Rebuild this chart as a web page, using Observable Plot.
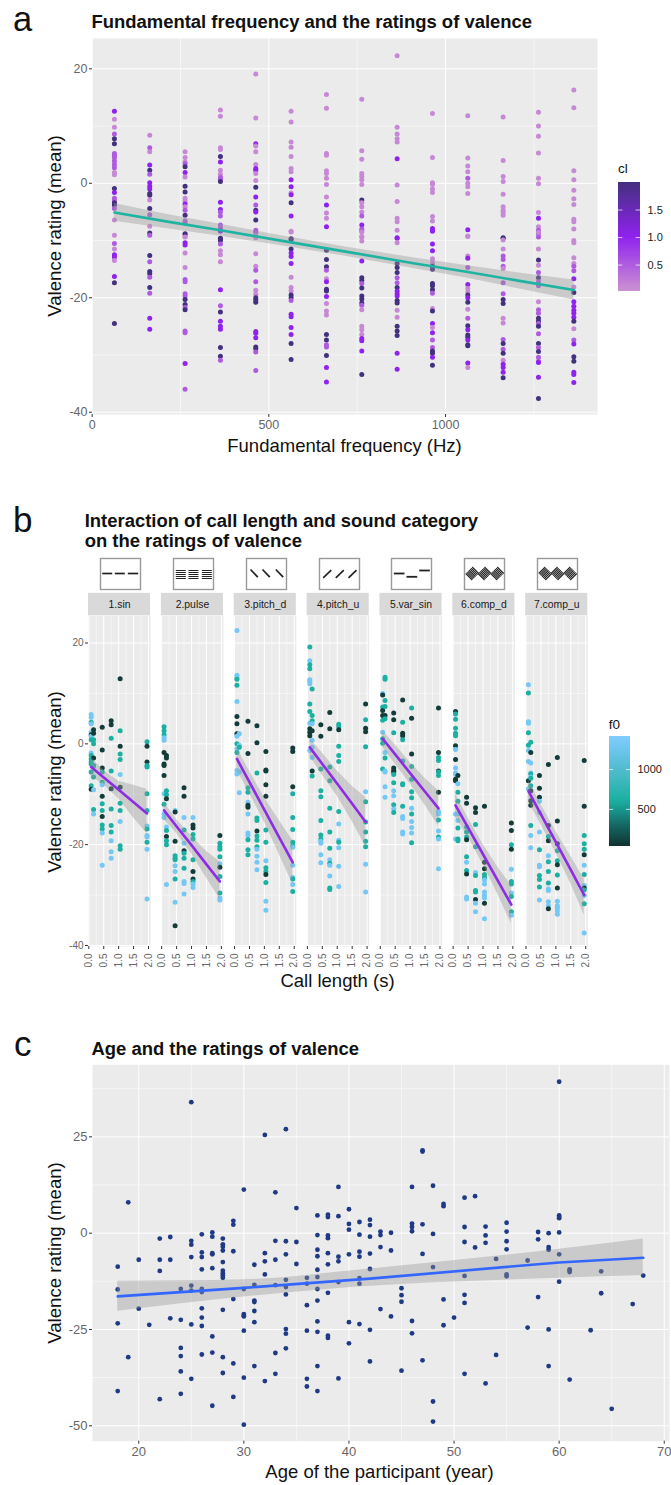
<!DOCTYPE html>
<html><head><meta charset="utf-8">
<script src="https://cdn.jsdelivr.net/npm/d3@7"></script>
<script src="https://cdn.jsdelivr.net/npm/@observablehq/plot@0.6"></script>
<style>
html,body{margin:0;padding:0;background:#fff}
#page{position:relative;width:671px;height:1485px;overflow:hidden;font-family:"Liberation Sans",Arial,sans-serif;color:#111}
#page>div{position:absolute;white-space:nowrap}
#page>svg,#page>figure{position:absolute;margin:0}
</style></head><body><div id="page"></div>
<script>
// ---------- Panel a: cl levels
const L=0.1,M=0.5,P=1,D=2;
const f0Levels=[63,163,263,363,463,563,663,763,863,963,1063,1163,1263,1363];
const a063=[12.6,P,11.2,L,9.8,L,8.6,M,7.8,D,6.9,D,5.2,M,4.9,M,4.5,M,3.9,M,3.3,M,2.7,M,1.9,L,1.5,L,-0.9,D,-1.6,P,-2.6,M,-3.1,M,-3.4,D,-3.8,D,-4.4,M,-6.4,L,-9.1,L,-10.5,M,-11.5,L,-12.5,P,-12.9,P,-13.5,L,-16.3,P,-17.4,D,-24.5,D];
const a163=[8.4,L,6.2,M,5.5,L,3.2,P,2.3,D,1.6,M,0.1,P,-0.5,P,-1,P,-1.8,D,-2.1,D,-2.9,L,-4.4,D,-5.5,M,-7.5,L,-8.7,D,-9.1,M,-12.6,D,-13.7,M,-15.4,D,-15.8,D,-16.4,M,-18.2,D,-19.2,M,-23.6,P,-25.5,P];
const a263=[5.5,L,4.5,L,3.7,L,3.4,M,2.9,D,1.9,P,1.1,L,-0.5,D,-1.5,D,-2.6,L,-3.1,L,-3.6,P,-4.1,L,-4.7,M,-5.6,D,-6.6,M,-6.9,M,-8.9,M,-9.3,L,-8.8,D,-9.4,L,-10.4,P,-10.8,P,-12.2,L,-14.7,L,-16.8,M,-17.2,M,-19.3,M,-19.7,M,-20.3,D,-21.2,D,-21.7,M,-22.1,D,-25.8,M,-26.1,M,-31.5,P,-36,M];
const a363=[12.8,L,11.7,L,6.2,L,5.9,L,4.7,D,3.7,P,2.3,L,1.6,L,1,M,0.7,M,0.3,D,-3.3,P,-4.6,P,-5,M,-5.7,M,-7.3,M,-7.8,M,-8.4,M,-9.7,D,-8.3,P,-9.6,D,-10,D,-10.6,M,-11.8,L,-12.5,L,-13.7,L,-18.6,P,-21.4,M,-22.5,D,-24.1,P,-25,P,-25.5,P,-28.7,D,-30.2,D,-30.9,M];
const a463=[19.1,L,11.4,L,6.9,P,6.5,L,5.5,L,3.3,L,2.6,P,2.3,P,1.7,L,0.5,L,-0.7,D,-2.4,P,-3.8,M,-4.7,D,-5,P,-6.4,D,-8.2,M,-8.6,M,-9.2,L,-9.5,L,-12.3,L,-14.5,L,-15.2,M,-17.2,M,-18.7,L,-19.4,L,-20,D,-20.4,D,-20.8,D,-25.9,P,-26.2,P,-27,P,-28.6,D,-28.9,D,-29.5,M,-32.7,M];
const a563=[12.6,L,10.7,L,7.2,L,6.3,L,4.7,L,2.6,L,2,L,0.6,P,-0.6,P,-1.7,L,-2,P,-3.4,D,-5.7,P,-8.4,L,-9.7,D,-8.5,L,-9.8,D,-11.5,D,-12.2,P,-12.8,P,-14,P,-16.4,L,-18.2,L,-18.8,L,-19.5,D,-20,D,-20.5,M,-22.9,P,-23.3,P,-25.2,P,-26.4,P,-28,D,-30.8,D];
const a663=[15.5,L,13.1,L,5.2,L,4.9,L,2.2,L,1.7,L,0.9,L,-0.2,L,-2.4,L,-3.8,P,-5.2,L,-6.1,L,-7.6,P,-11.7,D,-13.3,D,-14.6,D,-15.2,M,-16.7,L,-17.2,P,-18.5,D,-18.8,D,-19.8,P,-21,L,-22.3,L,-23,L,-26.4,D,-27.4,D,-28.2,M,-28.6,M,-30.1,D,-32.2,P,-34.7,P];
const a763=[14.7,L,5.7,L,4.2,L,1.7,L,1.2,L,0.6,L,-0.2,L,-2.9,D,-3.4,L,-4.1,L,-5,L,-5.7,M,-7.3,P,-8,M,-8.3,M,-9.4,L,-8.5,L,-9.3,L,-10.1,L,-13.6,P,-16.5,D,-17,D,-17.5,M,-18.3,D,-19.7,D,-20.2,D,-20.9,D,-21.3,M,-22.1,L,-25,L,-25.6,L,-26.4,L,-27.1,P,-27.5,P,-29.3,P,-33.4,D];
const a863=[22.3,L,9.8,L,8.6,L,7.8,L,7.2,L,4.3,P,-0.3,L,-3.2,L,-6.1,L,-6.7,L,-8.2,L,-9.6,P,-9.5,P,-10.4,L,-14,D,-14.7,D,-15.6,D,-16.5,M,-17.4,M,-18.2,D,-18.8,P,-19.3,P,-19.7,P,-20.5,D,-20.9,D,-22.2,L,-23.4,L,-25,D,-25.8,D,-26.6,D,-29.7,P,-32.5,P];
const a963=[12.2,L,4.5,L,0.1,L,-0.2,L,-1,L,-1.6,L,-5.8,L,-6.6,L,-7.9,P,-8.2,P,-8.4,P,-10.6,P,-11.8,P,-13.2,L,-13.9,L,-14.5,D,-15,D,-17.5,D,-17.9,D,-18.6,D,-19.2,M,-21.9,L,-22.3,D,-24.5,P,-25.2,L,-26.1,P,-27.4,M,-28.7,M,-29.3,D,-29.7,D,-30.4,P,-31.8,D];
const a1063=[11.8,L,4.4,L,3,L,2,L,0.9,M,0,L,-0.6,L,-1.8,L,-8.1,P,-9.3,L,-9.2,L,-12.7,L,-13.1,P,-14.7,M,-17.7,P,-18.4,L,-19,L,-19.5,D,-20,P,-20.8,D,-22,L,-23.6,M,-24.9,D,-25.6,P,-26.5,D,-26.9,D,-27.4,P,-28.2,D,-28.4,D,-31.4,P,-32.2,L];
const a1163=[11.6,L,4,L,1.2,L,0.3,L,-1.9,L,-4.1,L,-4.7,L,-5.1,L,-5.6,L,-9.5,D,-9.6,D,-9.9,L,-11.5,L,-12.7,M,-13.3,M,-14.5,M,-14.9,L,-17.4,M,-19.3,M,-20.3,D,-21,D,-23.6,L,-24.4,L,-27.3,M,-28,D,-29,M,-29.7,D,-30.9,L,-31.6,P,-32.2,P,-33,P,-34,D];
const a1263=[12.4,L,10,L,8.2,L,5.3,L,0.9,L,-0.1,L,-5.1,L,-6.1,P,-7.6,L,-8.2,M,-8.8,M,-9.4,M,-8.6,L,-11.5,L,-13.4,D,-14.3,L,-15.6,M,-16.5,D,-17.2,M,-17.9,M,-20.7,L,-22.1,M,-22.7,M,-23.6,D,-24.1,D,-24.5,M,-25,D,-26.3,M,-28,D,-28.7,M,-29.4,D,-30.4,M,-31.1,M,-31.3,P,-33.9,P,-37.6,D];
const a1363=[16.3,L,13.2,L,2.2,L,0.6,L,-1.2,L,-2.7,L,-3.7,L,-6.3,L,-6.7,L,-8,L,-10,L,-10.4,L,-13,L,-14,L,-14.5,M,-15.3,M,-16.7,P,-18.1,L,-19.1,D,-20.7,P,-21.5,P,-22.2,P,-22.7,P,-23.4,P,-24.1,D,-25.4,L,-27.4,M,-28.1,P,-30.3,D,-31.1,D,-33,P,-33.4,P,-34.8,P];
const aCols=[a063,a163,a263,a363,a463,a563,a663,a763,a863,a963,a1063,a1163,a1263,a1363];
const aFitX=[63,213,363,513,713,913,1063,1213,1363];
const aFitLine=[-5.1,-6.7,-8.2,-9.8,-11.9,-14,-15.5,-17.1,-18.65];
const aFitHi=[-3.55,-5.45,-7.15,-8.9,-11.1,-13.05,-14.4,-15.7,-16.9];
const aFitLo=[-6.65,-7.95,-9.25,-10.7,-12.7,-14.95,-16.6,-18.5,-20.4];
// ---------- Panel b
const H=1300,T=600,K=80;
const categories=["1.sin","2.pulse","3.pitch_d","4.pitch_u","5.var_sin","6.comp_d","7.comp_u"];
// each row: call length, then value/f0 pairs
const bSin=[[.08,5.8,H,5.3,H,4.3,T,4,H,2.3,H,1.8,K,1.5,H,.8,T,-1.8,H,-2.3,T,-3,T,-3.6,T,-4,T,-5.6,T,-8.3,T,-9,K],
[.16,2.8,K,2.1,K,.8,T,0,T,-2.8,K,-4.3,T,-4.4,T,-6.6,T,-9.1,H,-13,T,-13.9,H],
[.45,3.3,K,-1.2,K,-4.8,K,-5.6,T,-7.6,T,-8.1,H,-10.4,K,-11.9,T,-13.2,T,-14.4,K,-16.1,T,-16.9,T,-17.7,H,-24.1,H],
[.75,4.6,K,3.8,K,1.1,T,-5.4,T,-8.9,K,-12.9,T,-16.2,T,-17.5,T,-19.2,H,-21.4,H,-22.7,H],
[1.05,12.9,K,2.6,T,-.5,K,-2,T,-3.1,T,-6.1,H,-8.6,K,-11.8,T,-13.2,T,-15.4,H,-20.2,T,-20.9,T],
[1.95,.4,T,-.5,K,-3.6,K,-4.3,T,-4.6,T,-9.9,T,-13.2,T,-16.3,H,-16.9,T,-18.2,H,-18.5,H,-19.5,T,-20.9,H,-30.8,H]];
const bPulse=[[.08,3.4,T,2.6,T,1.8,T,1.2,H,.7,H,-1.7,K,-4,K,-4.3,K,-6.3,K,-9.9,H,-12,T,-13.9,H,-14.6,H],
[.16,-2.3,K,-2.8,K,-9.3,T,-10.1,T,-10.9,K,-16.5,H,-17.2,T,-18.4,K,-19.2,T,-20,T,-27.9,H],
[.45,-13.2,H,-13.5,K,-19.3,K,-22.2,T,-22.7,T,-23,T,-24.2,H,-25.3,H,-26.8,T,-31.4,H,-36.1,K],
[.75,-8.7,K,-10.4,K,-14.6,H,-17.1,T,-19.7,H,-21.2,K,-21.7,T,-22.7,T,-24.7,T,-27.3,H,-27.7,H,-29.8,H],
[1.05,-14.6,H,-16.1,K,-16.7,K,-18,T,-18.9,T,-23,T,-25.3,K,-26.8,K,-27.3,T,-27.8,H,-28.5,H],
[1.95,-18.2,K,-19.7,T,-20.4,T,-20.9,T,-22.4,T,-23.8,H,-24.5,K,-26.3,T,-29.6,T,-30.6,H,-31,H]];
const bPitchD=[[.08,22.5,H,13.6,H,13.2,H,12.8,T,11.6,T,8.4,H,5.4,K,4,K,2,K,1.5,H,0,T,-1,H,-1.7,T,-5.3,H,-6,H],
[.16,2,H,-.3,H,-.7,T,-5.6,H,-9.7,H],
[.45,4.5,K,-1.9,K,-8.7,T,-9.6,T,-11.6,H,-12.2,K,-12.6,K,-13.9,H,-17.7,H,-18.2,H,-19,T,-21,T,-22,T],
[.75,3.6,K,.2,K,-5.8,T,-14.7,T,-15.2,T,-17.3,K,-18.3,T,-19.1,T,-20.4,T,-20.9,H,-22.3,H,-23.5,H,-25,H],
[1.05,-1.5,K,-5.2,K,-5.4,K,-8.1,K,-10.4,K,-17.1,T,-19.5,T,-23.2,H,-24.6,T,-25.3,T,-25.9,K,-27.5,T,-31.2,H,-33,H],
[1.95,-.8,K,-1.5,K,-8.5,K,-9.9,T,-14.6,T,-17,T,-19.5,T,-20.2,T,-20.5,H,-24.1,H,-26.5,H,-26.8,T,-27.9,H,-29.3,T]];
const bPitchU=[[.08,19.2,T,16.5,H,15.7,T,14.9,T,12.7,H,12.4,H,11.9,H,7.9,T,6.4,T,4.1,H,3,K,2.3,K,1.6,K,-1.3,H],
[.16,10.9,T,5.6,T,4.6,T,4,H,2.6,K,.7,H,-.7,H,-2.7,H,-5.4,K,-6.4,T],
[.45,3.8,K,1.5,K,-5,T,-9.3,T,-10.5,T,-15.2,T,-18.1,T,-18.9,T,-19.3,H,-19.7,H,-22,H,-23.6,H],
[.75,6.2,K,3,K,-4.6,T,-7.3,T,-12.8,T,-17.5,T,-20.7,T,-23,H,-23.7,T,-24.1,H,-26.2,H,-28.6,T,-28.9,T],
[1.05,3.9,T,3.4,T,2.8,K,-.5,T,-2.3,T,-3.5,T,-13.4,T,-15.9,H,-19.1,H,-19.5,T,-20.6,H,-24.3,H,-28.3,H],
[1.95,7.9,K,4.8,T,3.1,K,2.4,K,-.6,T,-9.5,H,-11.5,T,-15.5,T,-17.5,T,-19.3,T,-20.4,T,-23.9,H,-29.4,H]];
const bVarSin=[[.08,10,H,9.7,K,7.3,T,6.6,K,5.6,K,4.7,T,2.3,H,1,T,.1,T,-5,T],
[.16,13.2,T,12.8,T,8.6,T,7.4,T,5.6,K,5,T,-1.7,H,-2.8,T,-5.4,H,-5.6,H,-8.5,H,-10.6,H],
[.45,6.1,K,4.8,K,2.2,T,-4.8,K,-5.3,K,-5.6,K,-6.1,T,-7.7,T,-9.3,H,-10.3,H,-12.1,T,-12.9,H,-13.6,T],
[.75,8.7,K,4.3,T,2.1,K,1.6,K,.8,T,-3.4,T,-7.9,T,-8.1,T,-12.4,T,-14.4,H,-14.8,H,-17.5,H,-17.9,H],
[1.05,7.1,T,5.1,K,-2,K,-4.5,T,-7,T,-9.5,T,-10.7,T,-12.8,H,-13.9,T,-15.4,H,-16.6,H,-17.7,H,-19.6,T],
[1.95,7.1,K,-1.7,K,-2.7,T,-3.3,T,-5.4,K,-5.6,T,-6.3,T,-9.6,K,-13.4,H,-13.9,H,-15.1,T,-17.3,H,-18.5,T,-18.9,H,-24.8,H]];
const bCompD=[[.08,6.4,K,5.9,T,4.9,T,3.1,T,2.1,T,1.6,T,-.4,K,-1.1,H,-3.1,K,-4.8,H,-5.8,H,-6.1,H,-7,K,-7.3,K,-13.9,H,-18.9,H],
[.16,-6.3,K,-7.9,H,-9.6,T,-11.4,T,-13.9,H,-15.2,H,-16.7,T,-18.9,T,-19.2,T],
[.45,-10.6,K,-11.8,K,-16.5,T,-17.5,T,-18.5,T,-19,K,-22.4,T,-23.5,H,-25.1,T,-25.8,K,-30.4,H,-30.8,H],
[.75,-12.7,K,-13.6,K,-16,T,-20.4,T,-25.5,H,-26.1,T,-29.1,T,-29.4,T,-30.9,K,-31.6,H,-33.3,H],
[1.05,-12.4,K,-23.5,K,-24.8,K,-25.9,T,-26.5,T,-27,H,-27.8,H,-29.4,H,-30.1,H,-30.6,H,-31.6,K,-34.7,H],
[1.95,-15.7,K,-17.2,K,-20,T,-20.9,K,-24.9,H,-27.3,T,-27.8,T,-29.6,H,-30.3,T,-33.3,T,-34,H]];
const bCompU=[[.08,11.7,H,10.1,T,4.4,H,4.1,H,2.2,T,-.3,T,-1.3,H,-3.5,H,-7.3,K,-8.9,H],
[.16,.3,T,-1.7,K,-3.8,H,-5.8,H,-6,T,-6.6,H,-6.8,T,-8.3,T,-9.3,K,-11.3,K,-12.2,K,-16.2,T,-18.2,H,-20.6,H],
[.45,-6.3,K,-8.8,K,-10.6,K,-11.4,H,-13.6,H,-17.5,H,-21,T,-24.1,H,-24.4,H,-26.1,T,-26.9,T,-28.4,T,-31,H],
[.75,-4.1,K,-16.2,K,-18.4,T,-19.2,K,-22.2,H,-23.4,T,-25.3,T,-27.6,T,-28.8,H,-29.1,H,-31.3,H,-32.1,H,-32.7,K],
[1.05,-2.7,K,-15.3,K,-19.8,K,-21.2,T,-23.2,T,-24,K,-26,T,-28.6,K,-31.2,H,-32.1,H,-32.5,H,-33.1,H,-33.8,H],
[1.95,-3.3,K,-12.4,K,-18.2,T,-19.8,T,-20.9,T,-22,K,-24.1,H,-25.9,T,-28.1,H,-28.6,K,-29,T,-30.1,H,-31.7,T,-37.5,H]];
const bPanels=[bSin,bPulse,bPitchD,bPitchU,bVarSin,bCompD,bCompU];
const bFitX=[.08,.5,1,1.5,1.95];
const bFitLine=[[-4.6,-6.67,-9.1,-11.6,-13.8],[-13.2,-16.4,-20.1,-23.9,-27.3],[-3,-7.6,-13.1,-18.6,-23.5],[-.7,-4,-7.9,-11.9,-15.5],[1,-2.1,-5.8,-9.5,-12.8],[-12.2,-16.6,-21.9,-27.2,-31.9],[-9.4,-14,-19.5,-25,-30]];
const bFitHi=[[-2.7,-5.3,-7.4,-8.2,-9],[-11.6,-15,-18.4,-21.3,-23.4],[-.8,-5.4,-10.7,-15.2,-19.2],[1,-1.8,-5.4,-8.4,-10.6],[2.6,-.2,-3.7,-6.8,-9.3],[-9.9,-14.7,-19.9,-24.5,-28.1],[-7.3,-12,-17.4,-22.3,-26.8]];
const bFitLo=[[-6.5,-8.1,-10.9,-14.7,-17.8],[-15,-17.8,-21.8,-26.6,-30.8],[-5.2,-9.8,-15.5,-22,-27.8],[-2.5,-6.2,-10.4,-15.4,-20.4],[-.7,-4,-7.9,-12.2,-16.3],[-14.6,-18.5,-23.9,-29.9,-35.7],[-11.5,-16,-21.6,-27.7,-34]];
const bLengthTicks=[0,.5,1,1.5,2];
// ---------- Panel c: age then values
const cAges=[[18,-8.7,-14.6,-23.4,-41],[19,8,-32.2],[20,-6.9,-19.6],[21,-23.8],[22,-1.4,-6.9,-9.8,-43.1],[23,-1,-6.9,-22.1],[24,-14.5,-22.5,-29.8,-31.9,-35.9,-41.7],[25,34,-2,-3,-6.2,-13.6,-14.9,-23.7,-37.8],[26,-.3,-5,-6.2,-9.4,-14.5,-15.3,-19.5,-21.9,-24.1,-31.5],[27,.2,-.9,-5.2,-5.5,-9.1,-26.8,-31,-44.8],[28,-1.4,-2.9,-3.5,-4.5,-7.5,-9.7,-10.4,-11,-11.6,-19.9,-32.2,-36.3],[29,3.2,2.2,-4.7,-17.1,-33.8,-42.5],[30,11.3,-14.5,-21,-21.4,-21.6,-25.3,-37.5,-49.7],[31,-8.2,-13.4,-17.5,-17.9,-20.2,-23.1,-34.5],[32,25.5,-5.2,-7.3,-10.7,-38.4],[33,10.6,-2,-6.9,-13.5,-31.1,-36.5],[34,27,-2.1,-5.5,-12.1,-14,-15.9,-24.9,-26.1,-29.9],[35,6.5,-2.3,-8],[36,-11.6,-13.1,-18.7,-25.3,-37.8,-39.8],[37,4.6,-.5,-4.3,-6,-9.5,-11.4,-14.5,-17.5,-22.9,-25.6,-34.5,-41],[38,4.8,4.2,-.6,-1.3,-5.2,-8.1,-15.5,-26.6,-27.2],[39,12,4.4,-6.1,-7.3,-12.7,-37.7],[40,6.2,2.4,.9,-5.5,-23.1,-28.6],[41,2.9,-.4,-4.8,-6.1,-11.7,-13.1,-23.6],[42,3.5,2.1,-.9,-5.3,-9.3,-25.1,-33.3],[43,.4,-.5,-3.6,-19.7],[44,.1,-4.5,-21.6],[45,-14.3,-16.1,-17.8,-35.7],[46,12,2.5,1.6,.5,-22.8,-26],[47,21.5,21.2,2.3,-5.4,-33],[48,12.3,-.2,-8.8,-43.7,-48.9],[49,7.6,7,-17.2,-23.9],[50,-21.9],[51,9.2,1.6,-2.3,-11.1,-16,-18.1,-36.5],[52,9.6,-3.7],[53,1.7,-.6,-2.5,-39],[54,-6.7,-31.6],[55,2.7,.4,-2.1,-4.2,-10.7,-11.2],[57,-7.1,-24.5],[58,.3,-1.6,-16.6],[59,0,-3.6,-4.3,-25,-34.5],[60,39.3,4.6,4.2,3.9,.2,-5.5,-12.6],[61,-9.4,-9.7,-10.1,-38],[63,-25.2],[64,-9.9,-15.6],[65,-45.6],[67,-18.4],[68,-11]];
const cFitX=[18,30,42,60,68];
const cFitLine=[-16.4,-14.2,-11.8,-7.6,-6.4];
const cFitHi=[-12.5,-12.1,-9.3,-4.2,-1.5];
const cFitLo=[-20.3,-16.6,-13.8,-11.7,-11];
// ---------- Text
const FONT='"Liberation Sans",Arial,sans-serif';
const GREY="#666";
const TICK="#333";
const BG="#ebebeb";
const page=document.getElementById("page");
function place(node,left,top){node.style.position="absolute";node.style.left=left+"px";node.style.top=top+"px";node.style.margin=0;page.appendChild(node);}
function text(s,x,base,fs,extra){const d=document.createElement("div");d.textContent=s;d.style.cssText=`left:${x}px;top:${base-0.92*fs}px;font-size:${fs}px;${extra||""}`;page.appendChild(d);}
function letter(s,x,base,fs){const d=document.createElement("div");d.textContent=s;d.style.cssText=`left:${x}px;top:${base-0.7465*fs}px;font-size:${fs}px;line-height:.8;`;page.appendChild(d);}
function ctext(s,x,base,fs){text(s,x,base,fs,"transform:translateX(-50%);");}
function rtext(s,x,y,fs){const d=document.createElement("div");d.textContent=s;d.style.cssText=`left:${x}px;top:${y}px;font-size:${fs}px;line-height:1;transform:translate(-50%,-50%) rotate(-90deg);`;page.appendChild(d);}
const grid=(axis,major,minor)=>[
  axis(minor,{stroke:"#fff",strokeOpacity:1,strokeWidth:.5}),
  axis(major,{stroke:"#fff",strokeOpacity:1,strokeWidth:1})];
const style={fontFamily:FONT,background:"transparent",overflow:"visible"};
// ---------- Panel a
const aRows=aCols.flatMap((c,i)=>d3.range(0,c.length,2).map(j=>({x:f0Levels[i],y:c[j],cl:c[j+1]})));
const aFit=aFitX.map((x,i)=>({x,y:aFitLine[i],hi:aFitHi[i],lo:aFitLo[i]}));
const clScale={type:"linear",domain:[0,1,2],range:["#cd93d2","#8f22ee","#43307e"],interpolate:"rgb"};
place(Plot.plot({width:671,height:485,marginLeft:92,marginRight:74,marginTop:38,marginBottom:71,style,
  x:{domain:[1,1430],label:null},y:{domain:[-40.4,25.3],label:null},color:clScale,
  marks:[
    Plot.frame({fill:BG,stroke:"none"}),
    ...grid(Plot.gridX,[0,500,1000],[250,750,1250]),
    ...grid(Plot.gridY,[-40,-20,0,20],[-30,-10,10]),
    Plot.axisX({ticks:[0,500,1000],tickSize:3,tickPadding:3,fontSize:12.5,label:null,color:GREY,stroke:TICK,tickFormat:d=>String(d)}),
    Plot.axisY({ticks:[-40,-20,0,20],tickSize:3,tickPadding:2,fontSize:12.5,label:null,color:GREY,stroke:TICK,tickFormat:d=>String(d)}),
    Plot.dot(aRows,{x:"x",y:"y",fill:"cl",r:2.5}),
    Plot.areaY(aFit,{x:"x",y1:"lo",y2:"hi",fill:"#999",fillOpacity:.4}),
    Plot.line(aFit,{x:"x",y:"y",stroke:"#1fb3a1",strokeWidth:2.6})
  ]}),0,0);
letter("a",13,31.4,34.5);
text("Fundamental frequency and the ratings of valence",91.5,28,18.45,"font-weight:700;");
ctext("Fundamental frequency (Hz)",344.5,451.7,18.5);
rtext("Valence rating (mean)",55,225.5,18.6);
// legend cl
const clStep=d3.range(0.02,1.99,0.02);
place(Plot.plot({width:61,height:125,marginLeft:8,marginRight:31,marginTop:7,marginBottom:9,style,
  x:{domain:[0,1],axis:null},y:{domain:[.02,2],axis:null},color:clScale,
  marks:[
    Plot.rect(clStep,{x1:0,x2:1,y1:d=>d,y2:d=>d+.021,fill:d=>d,shapeRendering:"crispEdges"}),
    Plot.ruleY([.5,1,1.5],{x1:0,x2:.2,stroke:"#fff",strokeOpacity:.7}),
    Plot.ruleY([.5,1,1.5],{x1:.8,x2:1,stroke:"#fff",strokeOpacity:.7}),
    Plot.text([.5,1,1.5],{x:1,y:d=>d,dx:7,textAnchor:"start",text:d=>d.toFixed(1),fontSize:11,fill:"#222"})
  ]}),610,175);
text("cl",618,173,13.5);
// ---------- Panel b
const bRows=bPanels.flatMap((rows,i)=>rows.flatMap(r=>d3.range(1,r.length,2).map(j=>({cat:categories[i],x:r[0],y:r[j],f0:r[j+1]}))));
const bFit=categories.flatMap((cat,i)=>bFitX.map((x,j)=>({cat,x,y:bFitLine[i][j],hi:bFitHi[i][j],lo:bFitLo[i][j]})));
const f0Scale={type:"linear",domain:[34,300,600,1000,1403],range:["#113230","#156b66","#1bb0a1","#52bcd0","#80ccff"],interpolate:"rgb"};
const stripRows=categories.map(cat=>({cat}));
place(Plot.plot({width:671,height:496,marginLeft:88,marginRight:83.7,marginTop:115.3,marginBottom:50,style,
  fx:{domain:categories,paddingInner:.148,paddingOuter:0,round:false,axis:null,label:null},
  x:{domain:[-.01,2.07],label:null},y:{domain:[-40.2,25.4],label:null},color:f0Scale,
  marks:[
    Plot.frame({fill:BG,stroke:"none"}),
    ...grid(Plot.gridX,bLengthTicks,[.25,.75,1.25,1.75]),
    ...grid(Plot.gridY,[-40,-20,0,20],[-30,-10,10]),
    Plot.rect(stripRows,{fx:"cat",x1:-.01,x2:2.07,y1:25.4,y2:29.85,fill:"#d9d9d9"}),
    Plot.text(stripRows,{fx:"cat",x:1.03,y:27.6,text:"cat",fontSize:10.4,fill:"#1a1a1a"}),
    Plot.axisX({ticks:bLengthTicks,tickSize:3,tickPadding:4,tickRotate:-90,fontSize:10,label:null,color:GREY,stroke:TICK,tickFormat:d3.format(".1f")}),
    Plot.axisY({ticks:[-40,-20,0,20],tickSize:3,tickPadding:2,fontSize:10,label:null,color:GREY,stroke:TICK,tickFormat:d=>String(d)}),
    Plot.dot(bRows,{fx:"cat",x:"x",y:"y",fill:"f0",r:2.5}),
    Plot.areaY(bFit,{fx:"cat",x:"x",y1:"lo",y2:"hi",fill:"#999",fillOpacity:.4}),
    Plot.line(bFit,{fx:"cat",x:"x",y:"y",stroke:"#8d2be6",strokeWidth:2.6})
  ]}),0,500);
letter("b",13,532,35);
text("Interaction of call length and sound category",84.7,527,18.45,"font-weight:700;");
text("on the ratings of valence",84.7,547,18.45,"font-weight:700;");
ctext("Call length (s)",337.5,986.7,18.5);
rtext("Valence rating (mean)",55,781.5,18.6);
// legend f0
const f0Step=d3.range(34,1403,13);
place(Plot.plot({width:71,height:122,marginLeft:9,marginRight:41,marginTop:7,marginBottom:6,style,
  x:{domain:[0,1],axis:null},y:{domain:[34,1403],axis:null},color:f0Scale,
  marks:[
    Plot.rect(f0Step,{x1:0,x2:1,y1:d=>d,y2:d=>d+14,fill:d=>d,shapeRendering:"crispEdges"}),
    Plot.ruleY([500,1000],{x1:0,x2:.2,stroke:"#fff",strokeOpacity:.7}),
    Plot.ruleY([500,1000],{x1:.8,x2:1,stroke:"#fff",strokeOpacity:.7}),
    Plot.text([500,1000],{x:1,y:d=>d,dx:7,textAnchor:"start",text:d=>String(d),fontSize:11,fill:"#222"})
  ]}),600,730);
text("f0",608.7,729,13.5);
// icons
const iconLefts=[100,173,246,318.5,391,464,537];
const dash=(x1,x2,y)=>({x1,x2,y1:y,y2:y});
const stroke=(x1,y1,x2,y2)=>({x1,y1,x2,y2});
const hatch=(cx,cy,s)=>d3.range(-3,4).map(k=>({x1:cx+k*1.08-3.25,y1:cy-s*k*1.08-s*3.25,x2:cx+k*1.08+3.25,y2:cy-s*k*1.08+s*3.25}));
const iconSegs=[
  [dash(1.7,11.7,15),dash(14.3,24.3,15),dash(27.3,37.7,15)],
  [2.3,15,28.3].flatMap(x=>[12,14,16,18,20].map(y=>dash(x,x+10,y))),
  [stroke(4,11,11.3,18.7),stroke(16,11,23.3,18.7),stroke(29.3,11,36.7,18.7)],
  [stroke(3.7,19.3,11.7,11.7),stroke(16.3,19.3,24.3,11.7),stroke(29,19.3,37,11.7)],
  [dash(2.3,13,15),dash(15,25.7,18.3),dash(27.7,38.3,12)],
  [7.7,20,32.7].flatMap(cx=>hatch(cx,15,1)),
  [7.7,20,32.7].flatMap(cx=>hatch(cx,15,-1))];
const iconWidths=[1.7,1,1.7,1.7,1.8,1.15,1.15];
iconSegs.forEach((segs,i)=>{
  place(Plot.plot({width:42,height:33,marginLeft:1,marginRight:1,marginTop:1,marginBottom:1,style,
    x:{domain:[0,40],axis:null},y:{domain:[31,0],axis:null},
    marks:[Plot.frame({stroke:"#999",strokeWidth:1.4,fill:"#fff"}),
      Plot.link(segs,{x1:"x1",y1:"y1",x2:"x2",y2:"y2",stroke:"#222",strokeWidth:iconWidths[i]})]}),iconLefts[i]-1,556.5);
});
// ---------- Panel c
const cRows=cAges.flatMap(r=>r.slice(1).map(y=>({x:r[0],y})));
const cFit=cFitX.map((x,i)=>({x,y:cFitLine[i],hi:cFitHi[i],lo:cFitLo[i]}));
place(Plot.plot({width:671,height:455,marginLeft:92,marginRight:2,marginTop:34.3,marginBottom:44.3,style,
  x:{domain:[15.6,70.5],label:null},y:{domain:[-54,43.7],label:null},
  marks:[
    Plot.frame({fill:BG,stroke:"none"}),
    ...grid(Plot.gridX,[20,30,40,50,60,70],[25,35,45,55,65]),
    ...grid(Plot.gridY,[-50,-25,0,25],[-37.5,-12.5,12.5,37.5]),
    Plot.axisX({ticks:[20,30,40,50,60,70],tickSize:3,tickPadding:3,fontSize:13,label:null,color:GREY,stroke:TICK}),
    Plot.axisY({ticks:[-50,-25,0,25],tickSize:3,tickPadding:2,fontSize:13,label:null,color:GREY,stroke:TICK,tickFormat:d=>String(d)}),
    Plot.dot(cRows,{x:"x",y:"y",fill:"#1f3a85",r:2.4}),
    Plot.areaY(cFit,{x:"x",y1:"lo",y2:"hi",fill:"#999",fillOpacity:.4,curve:"monotone-x"}),
    Plot.line(cFit,{x:"x",y:"y",stroke:"#3366ff",strokeWidth:2.6})
  ]}),0,1030);
letter("c",14,1056,35);
text("Age and the ratings of valence",91.5,1055,18.45,"font-weight:700;");
ctext("Age of the participant (year)",379.5,1478,18.5);
rtext("Valence rating (mean)",55,1253,18.6);
</script></body></html>
